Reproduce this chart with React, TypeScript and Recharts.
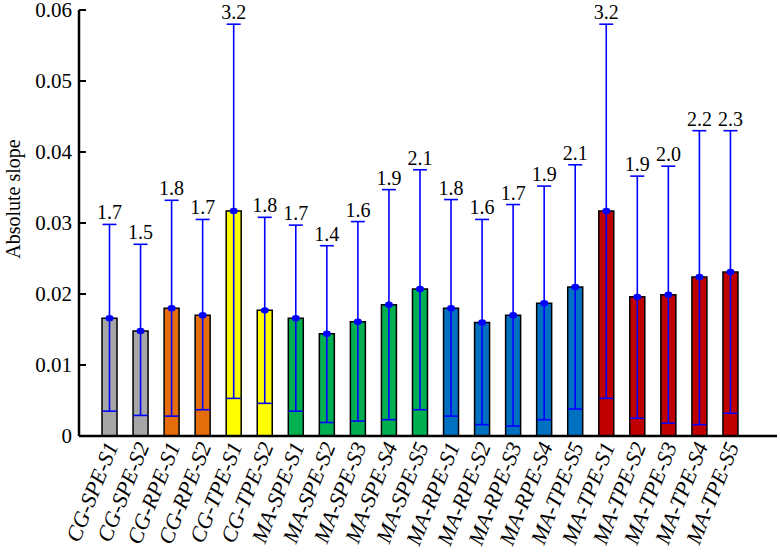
import React from "react";
import {
  ComposedChart,
  Bar,
  Line,
  XAxis,
  YAxis,
  ErrorBar,
  Cell,
  LabelList,
} from "recharts";

const categories = [
  "CG-SPE-S1", "CG-SPE-S2", "CG-RPE-S1", "CG-RPE-S2", "CG-TPE-S1", "CG-TPE-S2",
  "MA-SPE-S1", "MA-SPE-S2", "MA-SPE-S3", "MA-SPE-S4", "MA-SPE-S5",
  "MA-RPE-S1", "MA-RPE-S2", "MA-RPE-S3", "MA-RPE-S4", "MA-TPE-S5",
  "MA-TPE-S1", "MA-TPE-S2", "MA-TPE-S3", "MA-TPE-S4", "MA-TPE-S5",
];

// bar heights (mean absolute slope)
const means = [
  0.0166, 0.0148, 0.018, 0.017, 0.0317, 0.0177,
  0.0166, 0.0144, 0.0161, 0.0185, 0.0207,
  0.018, 0.016, 0.017, 0.0187, 0.021,
  0.0317, 0.0196, 0.0199, 0.0224, 0.0231,
];

const lowers = [
  0.0035, 0.0029, 0.0028, 0.0037, 0.0053, 0.0046,
  0.0035, 0.0019, 0.0021, 0.0023, 0.0037,
  0.0028, 0.0016, 0.0014, 0.0023, 0.0038,
  0.0053, 0.0025, 0.0018, 0.0016, 0.0032,
];

const uppers = [
  0.0298, 0.027, 0.0332, 0.0305, 0.058, 0.0308,
  0.0297, 0.0268, 0.0302, 0.0347, 0.0375,
  0.0333, 0.0305, 0.0326, 0.0352, 0.0382,
  0.058, 0.0366, 0.038, 0.043, 0.043,
];

const topLabels = [
  "1.7", "1.5", "1.8", "1.7", "3.2", "1.8",
  "1.7", "1.4", "1.6", "1.9", "2.1",
  "1.8", "1.6", "1.7", "1.9", "2.1",
  "3.2", "1.9", "2.0", "2.2", "2.3",
];

const barColors = [
  "#a6a6a6", "#a6a6a6", "#e46c0a", "#e46c0a", "#ffff00", "#ffff00",
  "#00b050", "#00b050", "#00b050", "#00b050", "#00b050",
  "#0070c0", "#0070c0", "#0070c0", "#0070c0", "#0070c0",
  "#c00000", "#c00000", "#c00000", "#c00000", "#c00000",
];

const yTicks = [0, 0.01, 0.02, 0.03, 0.04, 0.05, 0.06];

const FONT = "Liberation Serif";
const BLUE = "#0000ff";

const data = categories.map((name, i) => ({
  name,
  mean: means[i],
  upper: uppers[i],
  err: [means[i] - lowers[i], uppers[i] - means[i]],
  label: topLabels[i],
}));

const YTick = (props: any) => {
  const { x, y, payload } = props;
  const axisX = x + 7;
  const v = payload.value;
  return (
    <g>
      <line x1={axisX} x2={axisX + 7} y1={y} y2={y} stroke="#000" strokeWidth={2} />
      <text x={x} y={y} dy={7} textAnchor="end" fill="#000" style={{ fontFamily: FONT, fontSize: 21 }}>
        {v === 0 ? "0" : v.toFixed(2)}
      </text>
    </g>
  );
};

const XTick = (props: any) => {
  const { x, y, payload } = props;
  const tx = x + 9;
  const ty = y + 10;
  return (
    <text
      x={tx}
      y={ty}
      transform={`rotate(-68, ${tx}, ${ty})`}
      textAnchor="end"
      fill="#000"
      style={{ fontFamily: FONT, fontSize: 22, fontStyle: "italic" }}
    >
      {payload.value}
    </text>
  );
};

const MeanDot = (props: any) => {
  const { cx, cy } = props;
  if (cx == null || cy == null) return null;
  return <ellipse cx={cx} cy={cy} rx={4} ry={3.2} fill={BLUE} />;
};

export default function App() {
  return (
    <div style={{ position: "absolute", left: 0, top: 0, background: "#fff", fontFamily: FONT }}>
      <ComposedChart
        width={780}
        height={556}
        data={data}
        margin={{ top: 10, right: 3, left: 0, bottom: 0 }}
        style={{ fontFamily: FONT }}
      >
        <XAxis
          dataKey="name"
          interval={0}
          height={120}
          padding={{ left: 15, right: 31 }}
          axisLine={{ stroke: "#000", strokeWidth: 2.5 }}
          tickLine={false}
          tickSize={0}
          tickMargin={0}
          tick={<XTick />}
        />
        <YAxis
          domain={[0, 0.06]}
          ticks={yTicks}
          width={79}
          axisLine={{ stroke: "#000", strokeWidth: 2.5 }}
          tickLine={false}
          tickSize={0}
          tickMargin={7}
          tick={<YTick />}
          label={{
            content: ({ viewBox }: any) => {
              const cy = viewBox.y + viewBox.height / 2 - 24;
              return (
                <text
                  x={20}
                  y={cy}
                  transform={`rotate(-90, 20, ${cy})`}
                  textAnchor="middle"
                  fill="#000"
                  style={{ fontFamily: FONT, fontSize: 20 }}
                >
                  Absolute slope
                </text>
              );
            },
          }}
        />
        <Bar
          dataKey="mean"
          barSize={15}
          stroke="#000"
          strokeWidth={1.5}
          isAnimationActive={false}
        >
          {data.map((d, i) => (
            <Cell key={d.name + i} fill={barColors[i]} />
          ))}
          <ErrorBar dataKey="err" width={7} stroke={BLUE} strokeWidth={1.6} direction="y" />
        </Bar>
        <Line
          dataKey="mean"
          stroke="none"
          dot={<MeanDot />}
          activeDot={false}
          isAnimationActive={false}
        />
        <Line
          dataKey="upper"
          stroke="none"
          dot={false}
          activeDot={false}
          isAnimationActive={false}
        >
          <LabelList
            dataKey="label"
            position="top"
            offset={5}
            fill="#000"
            style={{ fontFamily: FONT, fontSize: 20 }}
          />
        </Line>
      </ComposedChart>
    </div>
  );
}
